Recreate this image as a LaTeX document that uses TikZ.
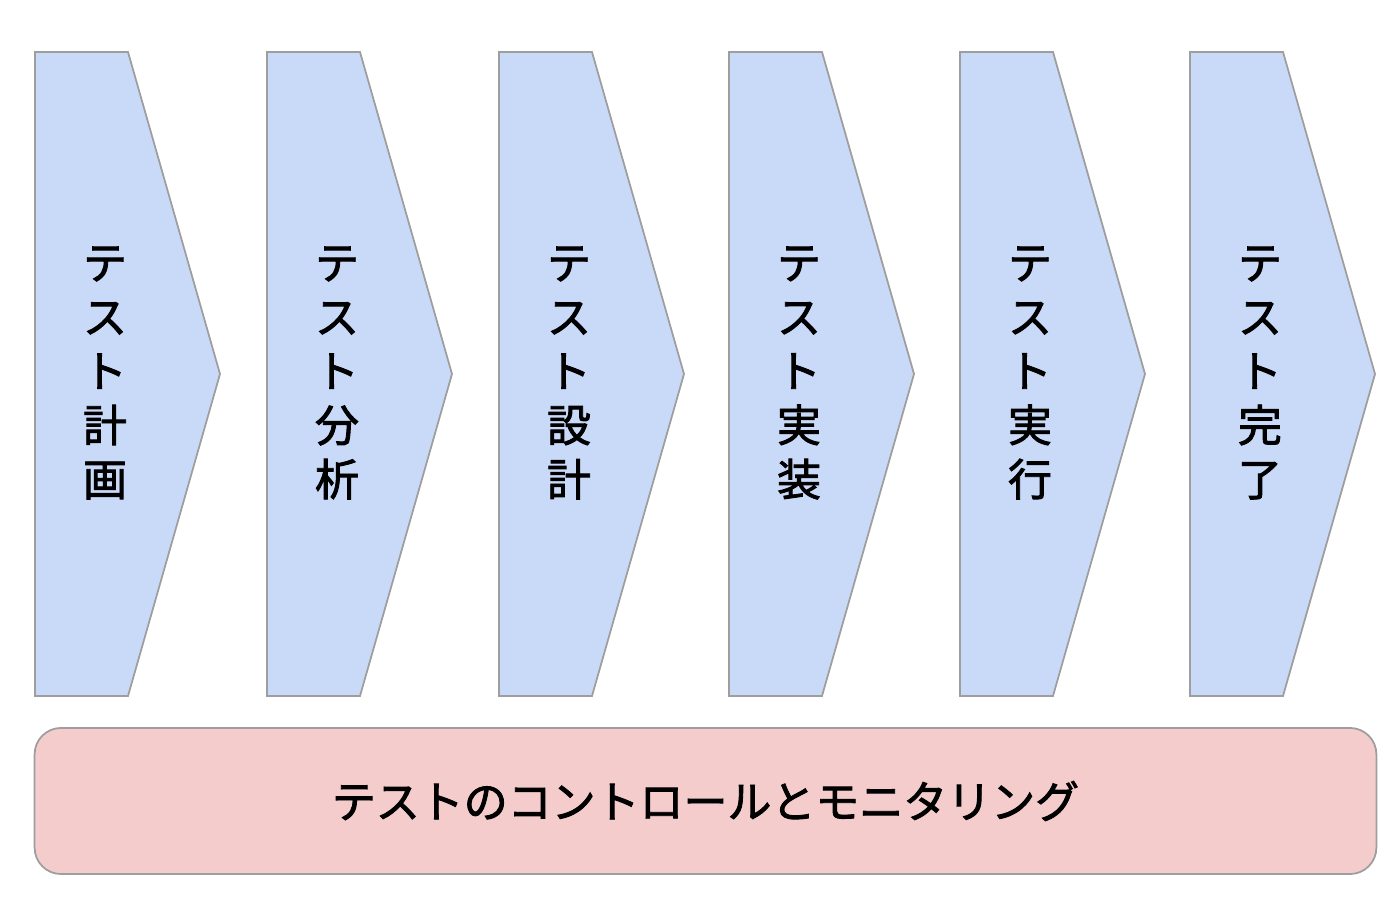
\documentclass[tikz,border=0pt]{standalone}
\usepackage{fontspec}
\usepackage{xcolor}
\usepackage{tikz}
\usetikzlibrary{positioning}
\newfontfamily\jpfont{Noto Sans CJK JP}[UprightFeatures={FakeBold=2}]
\definecolor{stepblue}{HTML}{C9DAF8}
\definecolor{ctrlpink}{HTML}{F4CCCC}
\definecolor{edgegray}{HTML}{9E9E9E}
\tikzstyle{chevron} = [draw=edgegray, fill=stepblue, line width=0.5pt]
\tikzstyle{steplabel} = [align=center, inner sep=0pt, font={\jpfont\fontsize{12.5pt}{15.4pt}\selectfont}]
\tikzstyle{ctrlbox} = [draw=edgegray, fill=ctrlpink, line width=0.5pt, rounded corners=7.5pt,
  minimum width=13.41cm, minimum height=1.46cm, font={\jpfont\fontsize{12.5pt}{15pt}\selectfont}]

\begin{document}
\begin{tikzpicture}[x=0.01cm,y=-0.01cm]
      \useasboundingbox (0,0) rectangle (1400,898);

      % process steps
      \foreach \n/\x/\a/\b in {1/35/計/画, 2/267/分/析, 3/499/設/計, 4/729/実/装, 5/960/実/行, 6/1190/完/了} {
        \draw[chevron] (\x,52) -- ++(93,0) -- ++(92,322) -- ++(-92,322) -- ++(-93,0) -- cycle;
        \node[steplabel] (step\n) at (\x+70,373) {テ\\ス\\ト\\\a\\\b};
      }

      % control bar
      \node[ctrlbox] (ctrl) at (705.5,801) {テストのコントロールとモニタリング};
    \end{tikzpicture}
\end{document}
